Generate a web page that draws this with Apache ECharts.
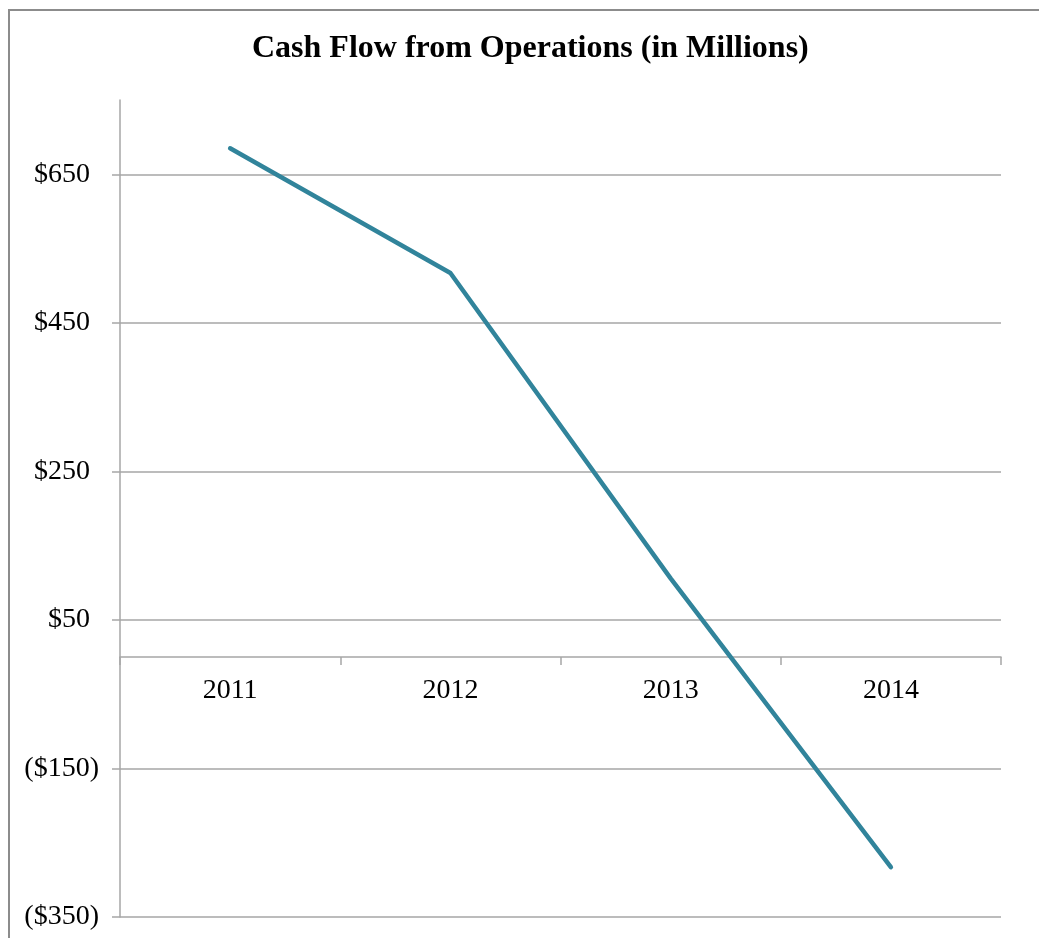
<!DOCTYPE html>
<html>
<head>
<meta charset="utf-8">
<script src="https://cdn.jsdelivr.net/npm/echarts@6/dist/echarts.min.js"></script>
<style>
  html, body { margin: 0; padding: 0; background: #fff; overflow: hidden; }
  #wrap { position: relative; width: 1039px; height: 938px; }
  #chart { width: 1039px; height: 938px; }
  /* frame of the chart area, cut off on the right and bottom */
  #frame { position: absolute; left: 8px; top: 9px; width: 1100px; height: 1000px;
           border: 2px solid #8c8c8c; pointer-events: none; }
</style>
</head>
<body>
<div id="wrap">
  <div id="chart"></div>
  <div id="frame"></div>
</div>
<script>
// data
const years = ['2011', '2012', '2013', '2014'];
const cashFlow = [685, 517, 106, -283];
const yTicks = [-350, -150, 50, 250, 450, 650];

const serif = '"Liberation Serif", "Times New Roman", serif';

const fmtMoney = v => v < 0 ? '{n|($' + Math.abs(v) + ')}' : '{p|$' + v + '}';

const myChart = echarts.init(document.getElementById('chart'));

const option = {
  animation: false,
  // 标题
  title: {
    text: 'Cash Flow from Operations (in Millions)',
    left: 247,
    top: 28,
    textStyle: {
      fontFamily: serif,
      fontWeight: 'bold',
      fontSize: 32,
      color: '#000'
    }
  },
  grid: {
    left: 120,
    right: 38,
    top: 100,
    bottom: 21,
    outerBoundsMode: 'none',
    containLabel: false
  },
  xAxis: {
    type: 'category',
    data: years,
    boundaryGap: true,
    position: 'bottom',
    offset: 0,
    axisLine: {
      onZero: false,
      lineStyle: { color: '#a6a6a6', width: 1.5 }
    },
    axisTick: {
      show: true,
      length: 8,
      lineStyle: { color: '#a6a6a6', width: 1.5 }
    },
    axisLabel: {
      margin: 20,
      fontFamily: serif,
      fontSize: 28,
      color: '#000'
    }
  },
  yAxis: {
    type: 'value',
    min: -350,
    max: 750,
    axisLine: {
      show: true,
      lineStyle: { color: '#a6a6a6', width: 1.5 }
    },
    axisTick: {
      show: true,
      length: 8,
      customValues: yTicks,
      lineStyle: { color: '#a6a6a6', width: 1.5 }
    },
    splitLine: {
      show: true,
      lineStyle: { color: '#a6a6a6', width: 1.5 }
    },
    axisLabel: {
      margin: 21,
      customValues: yTicks,
      formatter: fmtMoney,
      rich: {
        p: { fontFamily: serif, fontSize: 28, color: '#000', padding: [0, 9, 0, 0] },
        n: { fontFamily: serif, fontSize: 28, color: '#000' }
      }
    }
  },
  series: [
    {
      type: 'line',
      data: cashFlow,
      showSymbol: false,
      symbol: 'none',
      lineStyle: { color: '#31849b', width: 4.5, cap: 'round', join: 'round' }
    }
  ]
};

myChart.setOption(option);

// 把类目轴移到 0 的位置（标签跟着轴线走）
const bottomPx = myChart.convertToPixel({ yAxisIndex: 0 }, -350);
const zeroPx = myChart.convertToPixel({ yAxisIndex: 0 }, 0);
myChart.setOption({ xAxis: { offset: zeroPx - bottomPx } });
</script>
</body>
</html>
